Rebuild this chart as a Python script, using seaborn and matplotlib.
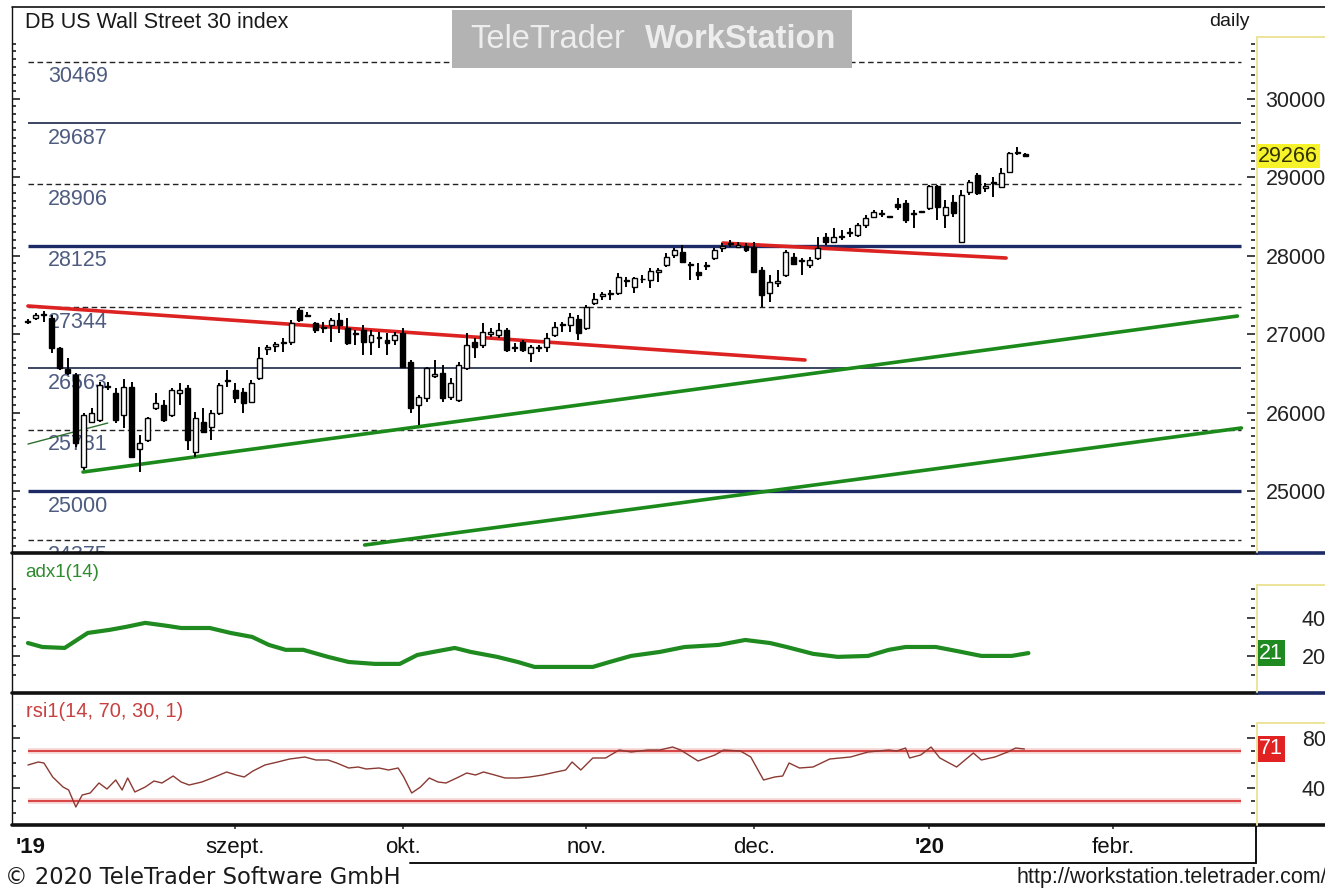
import numpy as np
import matplotlib
matplotlib.use('Agg')
import matplotlib.pyplot as plt
from matplotlib.lines import Line2D
from matplotlib.patches import Rectangle
import seaborn as sns

# daily candles, x = trading-day index (weekdays from 26 Jul 2019)
opens = [27150, 27200, 27240, 27200, 26820, 26550, 26480, 25300, 25880, 25900,
         26320, 26250, 25970, 26320, 25540, 25650, 26060, 26100, 25970, 26250,
         26310, 25500, 25880, 25810, 25990, 26400, 26290, 26260, 26130, 26440,
         26810, 26850, 26880, 26900, 27310, 27240, 27140, 27080, 27115, 27180,
         27080, 27000, 27050, 26900, 26955, 26920, 26920, 27010, 26640, 26100,
         26190, 26470, 26500, 26200, 26160, 26570, 26900, 26860, 27005, 26990,
         27050, 26825, 26900, 26760, 26825, 26830, 26990, 27110, 27115, 27190,
         27080, 27400, 27490, 27505, 27520, 27670, 27600, 27695, 27690, 27795,
         27880, 28010, 28045, 27875, 27790, 27870, 27970, 28100, 28150, 28110,
         28120, 28110, 27815, 27520, 27655, 27750, 27980, 27925, 27880, 27970,
         28235, 28170, 28240, 28290, 28260, 28390, 28490, 28535, 28490, 28655,
         28670, 28535, 28555, 28605, 28885, 28520, 28680, 28170, 28810, 29025,
         28865, 28930, 28870, 29065, 29310, 29290]
highs = [27190, 27270, 27290, 27240, 26830, 26690, 26500, 25990, 26060, 26390,
         26390, 26310, 26430, 26390, 25710, 25940, 26250, 26160, 26310, 26380,
         26350, 26010, 26060, 26030, 26380, 26540, 26380, 26310, 26410, 26830,
         26860, 26900, 26950, 27180, 27330, 27280, 27150, 27150, 27200, 27270,
         27200, 27050, 27115, 27050, 27025, 27010, 27025, 27080, 26670, 26220,
         26580, 26670, 26600, 26440, 26640, 27010, 26950, 27140, 27080, 27140,
         27080, 26885, 26920, 26860, 26860, 27010, 27150, 27150, 27270, 27240,
         27370, 27520, 27535, 27560, 27780, 27730, 27730, 27750, 27840, 27840,
         28030, 28100, 28130, 27920, 27900, 27920, 28100, 28160, 28200, 28170,
         28160, 28170, 27850, 27750, 27815, 28070, 28030, 27970, 27980, 28235,
         28290, 28350, 28325, 28350, 28410, 28520, 28580, 28580, 28495, 28730,
         28710, 28580, 28570, 28900, 28900, 28710, 28770, 28835, 28960, 29050,
         28920, 29000, 29115, 29320, 29380, 29310]
lows = [27130, 27180, 27150, 26760, 26540, 26480, 25560, 25270, 25870, 25880,
        26290, 25870, 25800, 25430, 25240, 25620, 26030, 25880, 25940, 26100,
        25520, 25430, 25740, 25650, 25970, 26320, 26120, 25990, 26120, 26410,
        26730, 26770, 26770, 26860, 27150, 27230, 27010, 27010, 26900, 27010,
        26860, 26860, 26730, 26730, 26820, 26730, 26860, 26570, 25990, 25840,
        26130, 26440, 26130, 26160, 26130, 26540, 26690, 26820, 26960, 26950,
        26770, 26770, 26770, 26640, 26770, 26770, 26960, 27025, 27025, 26920,
        27050, 27370, 27430, 27430, 27500, 27600, 27520, 27650, 27590, 27660,
        27850, 27970, 27900, 27690, 27690, 27810, 27940, 28045, 28110, 28095,
        28045, 27780, 27340, 27410, 27600, 27730, 27880, 27750, 27840, 27940,
        28135, 28160, 28200, 28235, 28235, 28350, 28480, 28490, 28485, 28580,
        28410, 28350, 28540, 28580, 28450, 28350, 28490, 28160, 28770, 28770,
        28810, 28745, 28860, 29050, 29280, 29260]
closes = [27160, 27240, 27260, 26820, 26570, 26500, 25610, 25970, 25990, 26350,
          26330, 25900, 26320, 25430, 25610, 25930, 26120, 25900, 26290, 26290,
          25650, 25930, 25750, 25990, 26350, 26420, 26180, 26120, 26380, 26690,
          26830, 26870, 26890, 27140, 27180, 27230, 27050, 27095, 27180, 27115,
          26890, 27015, 26900, 26990, 26965, 26885, 26990, 26580, 26060, 26200,
          26570, 26490, 26190, 26380, 26600, 26860, 26830, 27025, 27020, 27050,
          26800, 26840, 26800, 26830, 26840, 26950, 27090, 27120, 27220, 27010,
          27340, 27450, 27505, 27515, 27730, 27680, 27710, 27705, 27800, 27810,
          27980, 28070, 27920, 27885, 27750, 27885, 28070, 28115, 28165, 28135,
          28070, 27790, 27500, 27660, 27670, 28045, 27890, 27935, 27940, 28095,
          28170, 28235, 28255, 28305, 28390, 28480, 28555, 28545, 28490, 28620,
          28450, 28545, 28555, 28885, 28620, 28620, 28540, 28770, 28935, 28795,
          28880, 28940, 29050, 29305, 29325, 29266]

# horizontal levels
dashed_levels = [30469, 28906, 27344, 25781, 24375]
thin_levels = [29687, 26563]
thick_levels = [28125, 25000]

# trend lines (day index, price)
red1_x, red1_y = [0, 97.4], [27357, 26669]
red2_x, red2_y = [87.1, 122.6], [28159, 27968]
green1_x, green1_y = [6.9, 151.6], [25242, 27229]
green2_x, green2_y = [42.2, 152.1], [24312, 25803]
ma_x, ma_y = [0, 10.0], [25598, 25866]

# ADX(14)
adx_x = [0, 1.8, 4.6, 7.5, 10.2, 12.3, 14.7, 17.5, 19.2, 22.8, 25.4, 28.1, 30.2,
         32.3, 34.5, 37.6, 40.2, 43.5, 46.6, 48.8, 50.8, 53.5, 55.5, 58.8, 61.4,
         63.5, 70.8, 72.9, 75.6, 79.2, 82.3, 86.6, 89.9, 93.0, 95.1, 98.4, 101.5,
         105.3, 107.9, 110.0, 113.8, 116.4, 119.5, 123.3, 125.4]
adx_v = [26.8, 24.7, 24.2, 32.1, 33.7, 35.3, 37.4, 35.8, 34.7, 34.7, 32.1, 30.0, 25.8,
         23.2, 23.2, 19.5, 16.8, 15.8, 15.8, 20.5, 22.1, 24.2, 22.1, 19.5, 16.8,
         14.2, 14.2, 16.8, 20.0, 22.1, 24.7, 25.8, 28.4, 26.8, 24.7, 21.1, 19.5,
         20.0, 23.2, 24.7, 24.7, 22.6, 20.0, 20.0, 21.5]

# RSI(14)
rsi_x = [0, 1.3, 2.0, 3.1, 4.4, 5.1, 6.0, 6.8, 7.8, 8.9, 9.9, 11.0, 11.8, 12.5, 13.4,
         14.7, 15.8, 16.8, 18.2, 19.2, 20.2, 21.8, 23.4, 24.9, 26.1, 27.1, 28.2, 29.7,
         31.3, 32.8, 34.7, 36.1, 37.6, 38.7, 40.2, 41.4, 42.4, 44.0, 45.2, 46.4, 47.1,
         48.1, 49.2, 50.3, 51.4, 52.4, 54.0, 55.0, 56.1, 57.1, 58.5, 59.8, 61.4, 62.9,
         64.5, 66.2, 67.4, 68.2, 69.3, 70.8, 72.4, 74.1, 75.6, 77.7, 79.2, 80.8, 81.8,
         84.0, 86.1, 87.2, 89.3, 90.6, 92.2, 93.6, 94.6, 95.4, 96.7, 98.4, 100.5, 103.1,
         105.3, 107.9, 108.9, 110.0, 110.5, 111.9, 113.2, 114.3, 116.4, 118.5, 119.5,
         121.2, 122.8, 123.8, 124.9]
rsi_v = [58.4, 60.8, 60.0, 48.8, 40.8, 38.4, 24.8, 34.4, 36.0, 44.0, 39.2, 46.4, 38.4,
         48.0, 36.8, 40.8, 45.6, 44.0, 49.6, 44.8, 42.4, 44.8, 48.8, 52.8, 50.4, 48.8,
         53.6, 58.4, 60.8, 63.2, 64.8, 62.4, 62.4, 60.0, 56.0, 56.8, 55.2, 56.0, 54.4,
         56.0, 48.8, 36.0, 40.8, 48.0, 44.8, 44.0, 48.8, 52.0, 50.4, 52.8, 50.4, 48.0,
         48.0, 48.8, 50.4, 52.8, 54.4, 60.8, 54.4, 64.0, 64.0, 70.4, 68.8, 70.4, 70.4,
         72.8, 70.4, 61.6, 66.4, 70.4, 69.6, 64.8, 46.4, 48.8, 49.6, 60.0, 56.0, 56.8,
         63.2, 64.8, 68.8, 70.4, 69.6, 72.0, 64.0, 66.4, 72.8, 64.0, 56.8, 68.0, 62.4,
         64.8, 68.8, 72.0, 71.2]
rsi_levels = [70, 30]

# month ticks (day index) and labels
month_pos = [26, 47, 70, 91, 113, 136]
month_lab = ['szept.', 'okt.', 'nov.', 'dec.', "'20", 'febr.']

sns.set_theme(style='white')
plt.rcParams['font.family'] = ['Liberation Sans', 'DejaVu Sans']

W, H = 1325, 889
fig = plt.figure(figsize=(W / 100, H / 100), dpi=100)
fig.patch.set_facecolor('white')


def fbox(x0, y0, x1, y1):
    return [x0 / W, 1 - y1 / H, (x1 - x0) / W, (y1 - y0) / H]


def fline(x0, y0, x1, y1, **kw):
    fig.add_artist(Line2D([x0 / W, x1 / W], [1 - y0 / H, 1 - y1 / H],
                          transform=fig.transFigure, **kw))


XL = (-2.0, 153.8)
ax = fig.add_axes(fbox(12, 7, 1255, 552))
adx_ax = fig.add_axes(fbox(12, 553, 1255, 692))
rsi_ax = fig.add_axes(fbox(12, 693, 1255, 825))
date_ax = fig.add_axes(fbox(12, 825, 1255, 863))

for a in (ax, adx_ax, rsi_ax, date_ax):
    a.set_xlim(*XL)
    a.set_facecolor('none')
    for s in a.spines.values():
        s.set_visible(False)
    a.set_xticks([])
    a.grid(False)

ax.set_ylim(24223, 31166)
adx_ax.set_ylim(1.0, 74.2)
rsi_ax.set_ylim(10.4, 116)

lx0, lx1 = 0, 152.1
label_col = '#4e5c80'
fs = 15.5

# level lines with labels
ax.hlines(dashed_levels, lx0, lx1, colors='#222222', lw=1.0, linestyles=(0, (4, 2.5)), zorder=1)
ax.hlines(thin_levels, lx0, lx1, colors='#3c4560', lw=1.4, zorder=1)
ax.hlines(thick_levels, lx0, lx1, colors='#1c2a66', lw=2.4, zorder=1)
for lev in dashed_levels + thin_levels + thick_levels:
    ax.annotate(str(lev), (2.5, lev), xytext=(0, -11), textcoords='offset points',
                ha='left', va='center', fontsize=fs, color=label_col,
                annotation_clip=False, clip_on=True, zorder=0.5)

# trend lines
sns.lineplot(x=red1_x, y=red1_y, ax=ax, color='#dd2222', lw=2.6, zorder=2)
sns.lineplot(x=red2_x, y=red2_y, ax=ax, color='#dd2222', lw=2.6, zorder=2)
sns.lineplot(x=green1_x, y=green1_y, ax=ax, color='#1b8a1b', lw=2.6, zorder=2)
sns.lineplot(x=green2_x, y=green2_y, ax=ax, color='#1b8a1b', lw=2.6, zorder=2)
sns.lineplot(x=ma_x, y=ma_y, ax=ax, color='#2f6f2f', lw=1.0, zorder=2)

# candles
o = np.array(opens); c = np.array(closes)
idx = np.arange(len(c))
body_lo = np.minimum(o, c)
body_h = np.maximum(np.abs(c - o), 12)
fill = np.where(c >= o, 'white', 'black')
ax.vlines(idx, lows, highs, colors='black', lw=1.4, zorder=3)
ax.bar(idx, body_h, bottom=body_lo, width=0.62, color=fill, edgecolor='black',
       linewidth=1.0, zorder=4)


def right_axis(a, major, minor):
    a.set_yticks(major)
    a.set_yticks(minor, minor=True)
    a.tick_params(axis='y', which='both', left=True, right=True, labelleft=False,
                  labelright=True, direction='in', colors='#222222', labelsize=fs, pad=51)
    a.tick_params(axis='y', which='major', length=6, width=1.2)
    a.tick_params(axis='y', which='minor', length=3, width=1.2)
    for t in a.get_yticklabels():
        t.set_ha('right')
    a.set_ylabel('')


# right price axis
right_axis(ax, range(25000, 30001, 1000), range(24300, 30701, 100))
ax.text(1.0025, closes[-1], f'{closes[-1]}', transform=ax.get_yaxis_transform(),
        ha='left', va='center', fontsize=fs, color='#333300', clip_on=False, zorder=6,
        bbox=dict(boxstyle='square,pad=0.08', fc='#f6f32a', ec='none'))

# ADX panel
sns.lineplot(x=adx_x, y=adx_v, ax=adx_ax, color='#1f8a1f', lw=3.0)
right_axis(adx_ax, [20, 40], range(10, 56, 5))
adx_ax.text(1.003, adx_v[-1], '21', transform=adx_ax.get_yaxis_transform(),
            ha='left', va='center', fontsize=fs, color='white', clip_on=False,
            bbox=dict(boxstyle='square,pad=0.1', fc='#1f8a1f', ec='none'))
adx_ax.text(0.011, 0.86, 'adx1(14)', transform=adx_ax.transAxes, fontsize=13.5,
            color='#2e8b2e', va='center')

# RSI panel
rsi_ax.hlines(rsi_levels, lx0, lx1, colors='#f6d4d4', lw=4, zorder=1)
rsi_ax.hlines(rsi_levels, lx0, lx1, colors='#d42a2a', lw=1.2, zorder=2)
sns.lineplot(x=rsi_x, y=rsi_v, ax=rsi_ax, color='#8a3a32', lw=1.0, zorder=3)
right_axis(rsi_ax, [40, 80], range(20, 91, 10))
rsi_ax.text(1.003, rsi_v[-1], '71', transform=rsi_ax.get_yaxis_transform(),
            ha='left', va='center', fontsize=fs, color='white', clip_on=False,
            bbox=dict(boxstyle='square,pad=0.1', fc='#e02222', ec='none'))
rsi_ax.text(0.011, 0.86, 'rsi1(14, 70, 30, 1)', transform=rsi_ax.transAxes, fontsize=14.5,
            color='#c84040', va='center')

# date strip
date_ax.set_yticks([])
date_ax.set_ylim(0, 1)
date_ax.vlines(month_pos, 0.9, 1.0, colors='#333333', lw=1.2)
date_ax.text(-1.6, 0.42, "'19", ha='left', va='center', fontsize=16, fontweight='bold',
             color='#111111')
for p, lab in zip(month_pos, month_lab):
    date_ax.text(p, 0.42, lab, ha='center', va='center', fontsize=16, color='#111111',
                 fontweight='bold' if lab.startswith("'") else 'normal')

# frame lines
fline(12, 7, 1325, 7, color='#111111', lw=1.2)
fline(12, 7, 12, 825, color='#111111', lw=1.0)
fline(12, 552.5, 1257, 552.5, color='#111111', lw=2.6)
fline(1257, 552.5, 1325, 552.5, color='#1c2a66', lw=2.6)
fline(12, 692.5, 1257, 692.5, color='#111111', lw=2.6)
fline(1257, 692.5, 1325, 692.5, color='#1c2a66', lw=2.6)
fline(12, 825, 1325, 825, color='#111111', lw=2.6)
fline(410, 863, 1256, 863, color='#111111', lw=1.4)
fline(1256, 825, 1256, 863, color='#111111', lw=1.4)
yel = '#ece39a'
for top, bot in [(37, 552), (585, 692), (723, 825)]:
    fline(1257, top, 1257, bot, color=yel, lw=1.4)
    fline(1257, top, 1325, top, color=yel, lw=1.4)

# header texts and watermark
fig.text(25 / W, 1 - 22 / H, 'DB US Wall Street 30 index', fontsize=15.5, va='center',
         color='#1a1a1a')
fig.text(1250 / W, 1 - 22 / H, 'daily', fontsize=14, va='center', ha='right', color='#1a1a1a')
fig.add_artist(Rectangle((452 / W, 1 - 68 / H), 400 / W, 58 / H, transform=fig.transFigure,
                         facecolor='#b3b3b3', edgecolor='none', zorder=5))
fig.text(470 / W, 1 - 39 / H, 'TeleTrader', fontsize=23.5, va='center', ha='left',
         color='#ededed', zorder=6)
fig.text(836 / W, 1 - 39 / H, 'WorkStation', fontsize=23.5, va='center', ha='right',
         color='#ededed', fontweight='bold', zorder=6)

# footer
fig.text(5 / W, 1 - 877 / H, '\u00a9 2020 TeleTrader Software GmbH', fontsize=16.3,
         family='DejaVu Sans', va='center', color='#1a1a1a')
fig.text(1327 / W, 1 - 878 / H, 'http://workstation.teletrader.com/', fontsize=15.5,
         va='center', ha='right', color='#1a1a1a')

fig.savefig('out.png', dpi=100)
